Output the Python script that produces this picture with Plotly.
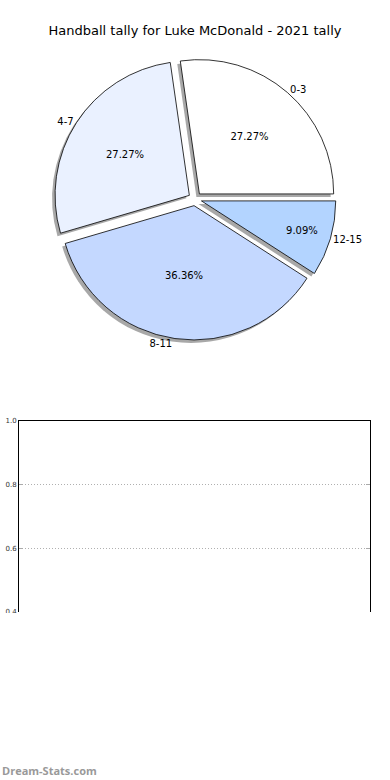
import plotly.graph_objects as go

# ---- data ----
labels = ["0-3", "4-7", "8-11", "12-15"]
counts = [3, 3, 4, 1]
colors = ["#FFFFFF", "#EAF1FF", "#C4D8FF", "#B3D4FF"]
pulls = [0.05, 0.05, 0.05, 0.05]
title_text = "Handball tally for Luke McDonald - 2021 tally"
y_ticks = [0.4, 0.6, 0.8, 1.0]
y_ticklabels = ["0.4", "0.6", "0.8", "1.0"]

W, H = 390, 780
FONT = "DejaVu Sans"

def px_x(v):
    return v / W

def px_y(v):
    return 1 - v / H

# start first slice at 3 o'clock going counterclockwise (plotly: ccw first slice ends at rotation)
rot = 90 - 360.0 * counts[0] / sum(counts)

cx, cy, half = 195, 199, 141
dom_x = [px_x(cx - half), px_x(cx + half)]
dom_y = [px_y(cy + half), px_y(cy - half)]
sh = 3  # shadow offset px
shadow_x = [px_x(cx - half - sh), px_x(cx + half - sh)]
shadow_y = [px_y(cy + half + sh), px_y(cy - half + sh)]

fig = go.Figure()

common = dict(labels=labels, values=counts, sort=False, direction="counterclockwise",
              rotation=rot, showlegend=False, automargin=False)

# shadow
fig.add_trace(go.Pie(
    **common, pull=pulls, domain=dict(x=shadow_x, y=shadow_y),
    marker=dict(colors=["rgba(110,110,110,0.6)"] * len(labels), line=dict(width=0)),
    textinfo="none", hoverinfo="skip",
))

# main pie with inside percentages
fig.add_trace(go.Pie(
    **common, pull=pulls, domain=dict(x=dom_x, y=dom_y),
    marker=dict(colors=colors, line=dict(color="#000000", width=0.8)),
    texttemplate="%{percent:.2%}", textposition="inside",
    insidetextorientation="horizontal",
    insidetextfont=dict(family=FONT, size=10, color="#000000"),
))

# outside labels
fig.add_trace(go.Pie(
    **common, pull=[p + 0.14 for p in pulls], domain=dict(x=dom_x, y=dom_y),
    marker=dict(colors=["rgba(0,0,0,0)"] * len(labels), line=dict(width=0)),
    texttemplate="%{label}", textposition="outside",
    outsidetextfont=dict(family=FONT, size=10, color="#000000"),
    hoverinfo="skip",
))

# empty axes below
fig.add_trace(go.Scatter(x=[], y=[], showlegend=False))

fig.update_layout(
    width=W, height=H, autosize=False,
    margin=dict(l=0, r=0, t=0, b=0, autoexpand=False),
    paper_bgcolor="white", plot_bgcolor="white",
    title=dict(text=title_text, xref="paper", x=0.5, xanchor="center",
               yref="paper", y=px_y(30), yanchor="middle",
               font=dict(family=FONT, size=13, color="#000000")),
    xaxis=dict(domain=[px_x(19), px_x(370)], range=[0, 1], side="top",
               showline=True, linecolor="#000000", linewidth=1, automargin=False,
               showgrid=False, zeroline=False, showticklabels=False, ticks=""),
    yaxis=dict(domain=[px_y(612), px_y(421)], range=[0.4, 1.0], automargin=False,
               tickvals=y_ticks, ticktext=y_ticklabels,
               showline=True, linecolor="#000000", linewidth=1, mirror="ticks",
               ticks="inside", ticklen=4, tickcolor="#aaaaaa",
               showgrid=True, gridcolor="#b0b0b0", griddash="1px,2px", gridwidth=1,
               zeroline=False,
               tickfont=dict(family=FONT, size=7, color="#333333")),
    shapes=[dict(type="rect", xref="paper", yref="paper", x0=0, x1=1,
                 y0=0, y1=px_y(613), fillcolor="white", line=dict(width=0),
                 layer="above")],
    annotations=[dict(text="<b>Dream-Stats.com</b>", xref="paper", yref="paper",
                      x=0, y=px_y(770), xanchor="left", yanchor="middle",
                      showarrow=False,
                      font=dict(family="Open Sans", size=11, color="#999999"))],
)

fig.write_html("out.html",
               config={"responsive": False, "displayModeBar": False},
               post_script="document.body.style.margin='0';")
